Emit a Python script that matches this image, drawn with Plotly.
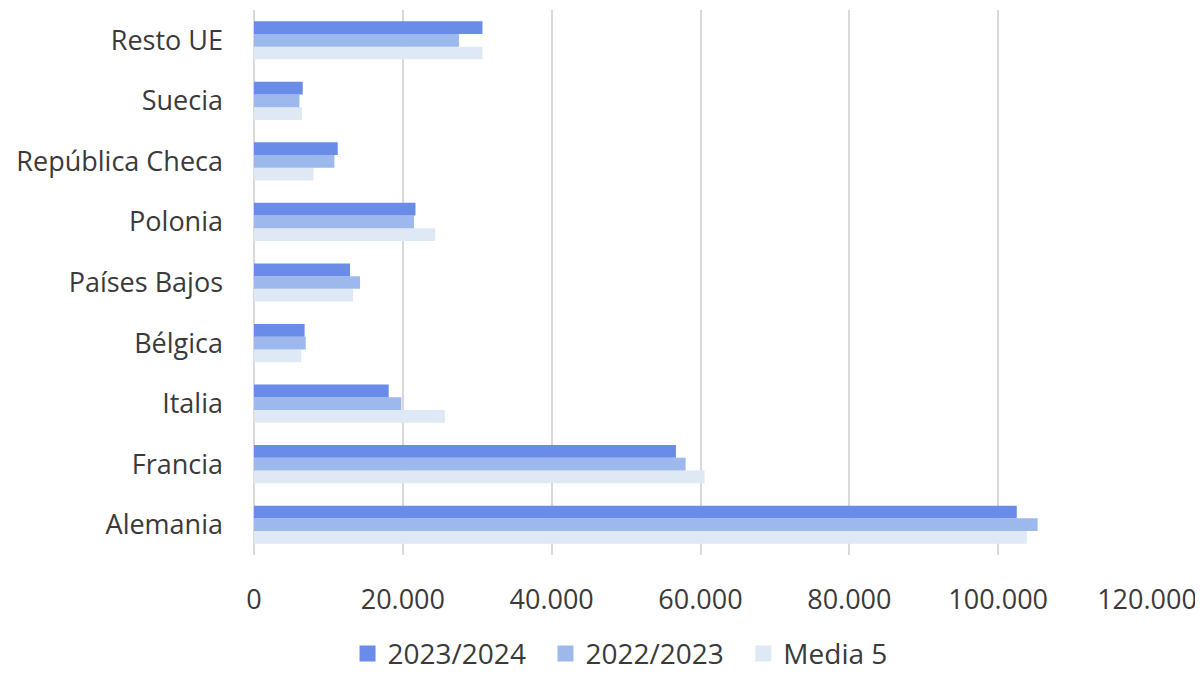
import plotly.graph_objects as go

categories = ["Alemania", "Francia", "Italia", "Bélgica", "Países Bajos",
              "Polonia", "República Checa", "Suecia", "Resto UE"]
s2023_2024 = [102500, 56700, 18100, 6800, 12900, 21700, 11250, 6550, 30700]
s2022_2023 = [105300, 58000, 19800, 6950, 14250, 21500, 10800, 6100, 27550]
media5 = [103850, 60550, 25650, 6350, 13300, 24350, 8000, 6450, 30700]
tick_vals = [0, 20000, 40000, 60000, 80000, 100000, 120000]

c1, c2, c3 = "#6A8CE9", "#9DB8EC", "#DEE9F5"

fig = go.Figure()
fig.add_trace(go.Bar(y=categories, x=media5, name="Media 5", orientation="h",
                     marker=dict(color=c3, line=dict(width=0)), showlegend=False))
fig.add_trace(go.Bar(y=categories, x=s2022_2023, name="2022/2023", orientation="h",
                     marker=dict(color=c2, line=dict(width=0)), showlegend=False))
fig.add_trace(go.Bar(y=categories, x=s2023_2024, name="2023/2024", orientation="h",
                     marker=dict(color=c1, line=dict(width=0)), showlegend=False))

# legend entries with larger square swatches
for name, col in [("2023/2024", c1), ("2022/2023", c2), ("Media 5", c3)]:
    fig.add_trace(go.Scatter(x=[None], y=[None], mode="markers", name=name + "  ",
                             marker=dict(symbol="square", size=16, color=col),
                             showlegend=True))

fig.update_layout(
    width=1203, height=674,
    paper_bgcolor="white", plot_bgcolor="white",
    font=dict(family="Open Sans, Segoe UI, sans-serif", size=27, color="#3A3A3A"),
    separators=",.",
    barmode="group", bargap=0.37, bargroupgap=0,
    margin=dict(l=246, r=64, t=2, b=127, autoexpand=False),
    showlegend=True,
    legend=dict(orientation="h", xref="container", x=0.515, xanchor="center",
                yref="container", y=0.042, yanchor="middle",
                traceorder="normal", font=dict(size=28, color="#3A3A3A"),
                itemwidth=30, tracegroupgap=0),
    xaxis=dict(range=[0, 120000], tickvals=tick_vals, tickformat=",d",
               showgrid=True, gridcolor="#D9D9D9", gridwidth=2,
               zeroline=True, zerolinecolor="#D9D9D9", zerolinewidth=2,
               showline=False, ticks="", ticklabelstandoff=26, automargin=False,
               tickfont=dict(size=27, color="#3A3A3A")),
    yaxis=dict(showgrid=False, showline=False, ticks="", ticklabelstandoff=30,
               automargin=False, tickfont=dict(size=27, color="#3A3A3A")),
)

fig.write_html("out.html")
